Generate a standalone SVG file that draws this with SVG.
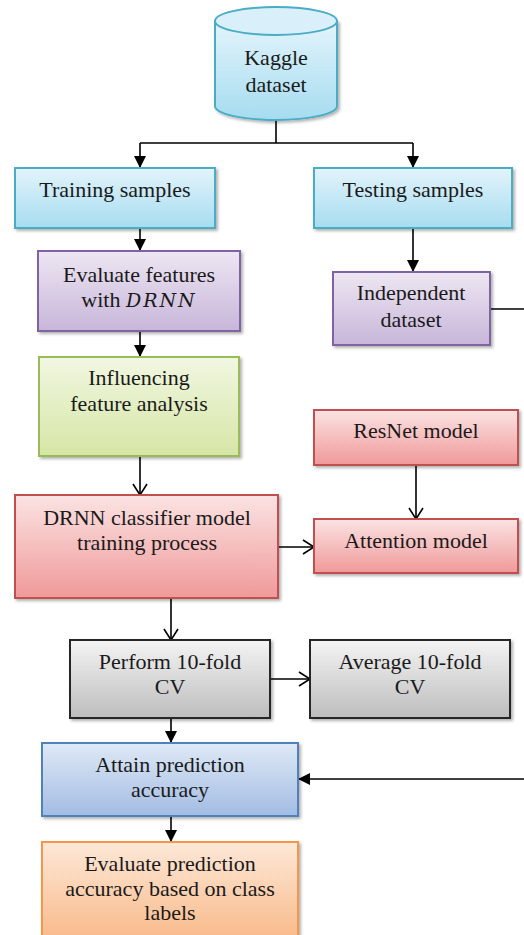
<svg xmlns="http://www.w3.org/2000/svg" width="524" height="935" viewBox="0 0 524 935">
<defs>
<linearGradient id="gCyan" x1="0" y1="0" x2="0" y2="1"><stop offset="0" stop-color="#e3f4fb"/><stop offset="1" stop-color="#a6dcf0"/></linearGradient>
<linearGradient id="gPurple" x1="0" y1="0" x2="0" y2="1"><stop offset="0" stop-color="#ede6f2"/><stop offset="1" stop-color="#c8b6da"/></linearGradient>
<linearGradient id="gGreen" x1="0" y1="0" x2="0" y2="1"><stop offset="0" stop-color="#f1f7e2"/><stop offset="1" stop-color="#d6e6a5"/></linearGradient>
<linearGradient id="gRed" x1="0" y1="0" x2="0" y2="1"><stop offset="0" stop-color="#fbe3e3"/><stop offset="1" stop-color="#f09999"/></linearGradient>
<linearGradient id="gGrey" x1="0" y1="0" x2="0" y2="1"><stop offset="0" stop-color="#f4f4f4"/><stop offset="1" stop-color="#bdbdbd"/></linearGradient>
<linearGradient id="gBlue" x1="0" y1="0" x2="0" y2="1"><stop offset="0" stop-color="#dfe9f6"/><stop offset="1" stop-color="#a2bce3"/></linearGradient>
<linearGradient id="gOrange" x1="0" y1="0" x2="0" y2="1"><stop offset="0" stop-color="#fde8d8"/><stop offset="1" stop-color="#f8b480"/></linearGradient>
<filter id="sh" x="-10%" y="-10%" width="130%" height="130%"><feDropShadow dx="2" dy="2" stdDeviation="1.5" flood-color="#000" flood-opacity="0.3"/></filter>
<marker id="aF" markerUnits="userSpaceOnUse" markerWidth="14" markerHeight="14" refX="12" refY="6" orient="auto"><path d="M0,0 L12,6 L0,12 z" fill="#000"/></marker>
<marker id="aO" markerUnits="userSpaceOnUse" markerWidth="16" markerHeight="18" refX="12" refY="8" orient="auto"><path d="M1,1 L12,8 L1,15" fill="none" stroke="#000" stroke-width="1.6"/></marker>
</defs>
<style>
text{font-family:"Liberation Serif","Times New Roman",serif;font-size:22px;fill:#1a1a1a;text-anchor:middle}
.b{stroke-width:2;filter:url(#sh)}
.cy{fill:url(#gCyan);stroke:#4bacc6}
.pu{fill:url(#gPurple);stroke:#8064a2}
.gr{fill:url(#gGreen);stroke:#9bbb59}
.rd{fill:url(#gRed);stroke:#c0504d}
.gy{fill:url(#gGrey);stroke:#262626}
.bl{fill:url(#gBlue);stroke:#4f81bd}
.or{fill:url(#gOrange);stroke:#f79646}
.c{fill:none;stroke:#000;stroke-width:1.6}
.f{marker-end:url(#aF)}
.o{marker-end:url(#aO)}
</style>
<g id="connectors">
<path class="c" d="M276,120 V143"/>
<path class="c f" d="M140,143 H413 M140,143 V168"/>
<path class="c f" d="M413,143 V168"/>
<path class="c f" d="M140,229 V251"/>
<path class="c f" d="M413,229 V272"/>
<path class="c" d="M491,309 H524"/>
<path class="c f" d="M140,331 V357"/>
<path class="c o" d="M140,457 V495"/>
<path class="c o" d="M416,466 V519"/>
<path class="c o" d="M279,547 H314"/>
<path class="c o" d="M171,599 V640"/>
<path class="c o" d="M271,679 H310"/>
<path class="c f" d="M171,719 V743"/>
<path class="c f" d="M524,779 H298"/>
<path class="c f" d="M171,817 V842"/>
</g>
<g id="kaggle">
<path class="cy" stroke-width="2" filter="url(#sh)" d="M215,21 V106 A61,14 0 0 0 337,106 V21 z"/>
<ellipse cx="276" cy="21" rx="61" ry="14" fill="#d9f0fa" stroke="#4bacc6" stroke-width="2"/>
<text x="276" y="65">Kaggle</text>
<text x="276" y="92">dataset</text>
</g>
<g id="training"><rect class="b cy" x="15" y="168" width="200" height="60"/><text x="115" y="197">Training samples</text></g>
<g id="testing"><rect class="b cy" x="314" y="168" width="198" height="60"/><text x="413" y="197">Testing samples</text></g>
<g id="evaluate"><rect class="b pu" x="38" y="251" width="202" height="80"/><text x="139" y="282">Evaluate features</text><text x="139" y="307">with <tspan font-family="'DejaVu Serif',serif" font-style="italic" font-size="19" letter-spacing="2">DRNN</tspan></text></g>
<g id="independent"><rect class="b pu" x="333" y="272" width="157" height="73"/><text x="411" y="300">Independent</text><text x="411" y="327">dataset</text></g>
<g id="influencing"><rect class="b gr" x="39" y="357" width="200" height="99"/><text x="139" y="385">Influencing</text><text x="139" y="411">feature analysis</text></g>
<g id="resnet"><rect class="b rd" x="314" y="410" width="204" height="55"/><text x="416" y="438">ResNet model</text></g>
<g id="drnn"><rect class="b rd" x="15" y="495" width="263" height="103"/><text x="147" y="525">DRNN classifier model</text><text x="147" y="550">training process</text></g>
<g id="attention"><rect class="b rd" x="314" y="519" width="204" height="54"/><text x="416" y="548">Attention model</text></g>
<g id="perform"><rect class="b gy" x="70" y="640" width="200" height="78"/><text x="170" y="669">Perform 10-fold</text><text x="170" y="694">CV</text></g>
<g id="average"><rect class="b gy" x="310" y="640" width="200" height="78"/><text x="410" y="669">Average 10-fold</text><text x="410" y="694">CV</text></g>
<g id="attain"><rect class="b bl" x="42" y="743" width="256" height="73"/><text x="170" y="772">Attain prediction</text><text x="170" y="797">accuracy</text></g>
<g id="evalacc"><rect class="b or" x="42" y="842" width="256" height="110"/><text x="170" y="871">Evaluate prediction</text><text x="170" y="896">accuracy based on class</text><text x="170" y="920">labels</text></g>
</svg>
